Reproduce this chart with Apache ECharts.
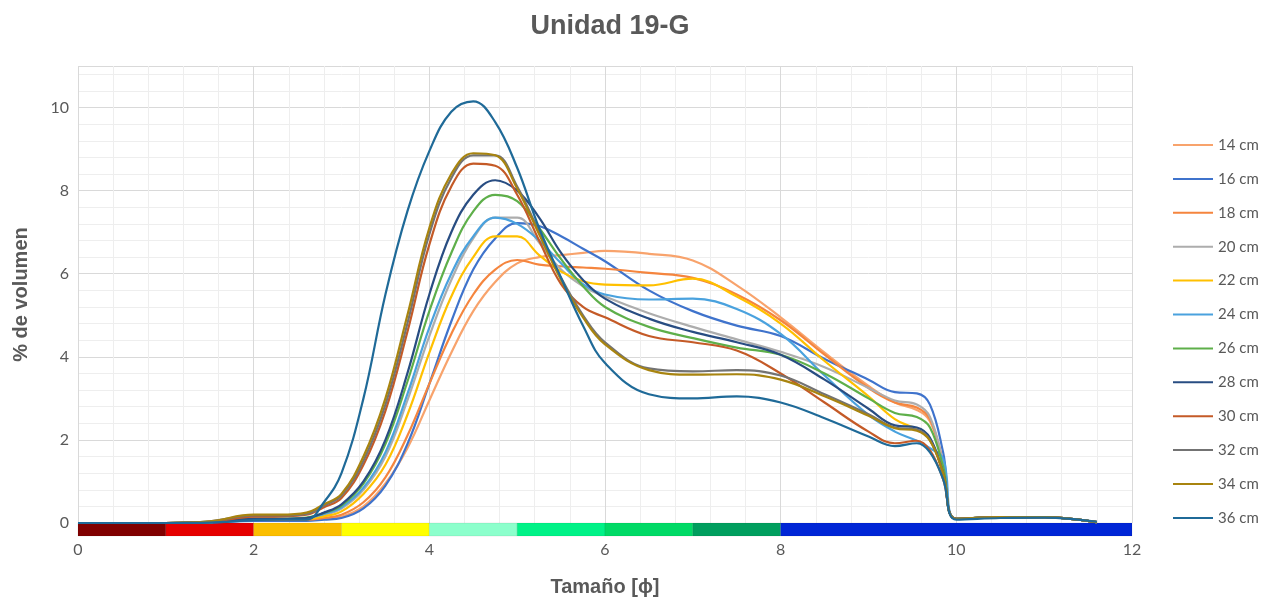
<!DOCTYPE html>
<html>
<head>
<meta charset="utf-8">
<script src="https://cdn.jsdelivr.net/npm/echarts@6/dist/echarts.min.js"></script>
<style>
  html, body { margin: 0; padding: 0; background: #ffffff; }
  #chart { width: 1277px; height: 599px; }
</style>
</head>
<body>
<div id="chart"></div>
<script>
// Grain size (phi) at which each sample curve is measured
const phi = [0, 1, 1.5, 2, 2.3, 2.6, 2.8, 3, 3.25, 3.5, 3.75, 4, 4.25, 4.5, 4.75, 5, 5.25, 5.5, 5.75, 6, 6.5, 7, 7.5, 8, 8.5, 9, 9.3, 9.55, 9.7, 9.85, 10, 10.5, 11, 11.3, 11.6];

// Sample depths (legend labels)
const depths = ['14 cm', '16 cm', '18 cm', '20 cm', '22 cm', '24 cm', '26 cm', '28 cm', '30 cm', '32 cm', '34 cm', '36 cm'];

// % volume per depth, one value per phi step
const s14 = [0, 0, 0.02, 0.08, 0.08, 0.07, 0.10, 0.15, 0.40, 0.95, 1.80, 2.95, 4.10, 5.10, 5.80, 6.25, 6.40, 6.45, 6.50, 6.55, 6.48, 6.32, 5.72, 4.95, 4.10, 3.30, 2.90, 2.72, 2.45, 1.45, 0.10, 0.14, 0.14, 0.10, 0.02];
const s16 = [0, 0, 0.01, 0.05, 0.05, 0.05, 0.08, 0.12, 0.35, 0.90, 1.90, 3.35, 4.85, 6.10, 6.85, 7.22, 7.15, 6.90, 6.60, 6.30, 5.60, 5.10, 4.75, 4.50, 3.95, 3.45, 3.15, 3.12, 2.85, 1.70, 0.10, 0.14, 0.14, 0.10, 0.02];
const s18 = [0, 0, 0.02, 0.08, 0.08, 0.08, 0.12, 0.20, 0.50, 1.10, 2.10, 3.35, 4.55, 5.50, 6.10, 6.33, 6.22, 6.18, 6.15, 6.12, 6.02, 5.90, 5.50, 4.88, 4.05, 3.25, 2.90, 2.78, 2.50, 1.45, 0.10, 0.14, 0.14, 0.10, 0.02];
const s20 = [0, 0, 0.02, 0.10, 0.10, 0.12, 0.20, 0.35, 0.80, 1.60, 2.95, 4.50, 5.85, 6.85, 7.35, 7.35, 6.75, 6.10, 5.70, 5.45, 5.05, 4.72, 4.42, 4.12, 3.75, 3.25, 2.95, 2.85, 2.55, 1.45, 0.10, 0.14, 0.14, 0.10, 0.02];
const s22 = [0, 0, 0.02, 0.10, 0.10, 0.10, 0.16, 0.28, 0.70, 1.40, 2.60, 4.10, 5.45, 6.40, 6.90, 6.90, 6.45, 6.05, 5.82, 5.74, 5.72, 5.88, 5.45, 4.80, 3.90, 3.05, 2.50, 2.25, 2.00, 1.20, 0.10, 0.14, 0.14, 0.10, 0.02];
const s24 = [0, 0, 0.02, 0.10, 0.10, 0.12, 0.22, 0.38, 0.85, 1.70, 3.10, 4.70, 6.00, 6.90, 7.35, 7.20, 6.80, 6.25, 5.75, 5.50, 5.38, 5.40, 5.15, 4.55, 3.55, 2.60, 2.20, 1.98, 1.80, 1.55, 0.10, 0.14, 0.14, 0.10, 0.02];
const s26 = [0, 0, 0.02, 0.10, 0.10, 0.13, 0.24, 0.42, 0.95, 1.90, 3.40, 5.10, 6.50, 7.50, 7.90, 7.75, 7.10, 6.35, 5.70, 5.20, 4.72, 4.45, 4.22, 4.05, 3.60, 3.00, 2.65, 2.55, 2.30, 1.35, 0.10, 0.14, 0.14, 0.10, 0.02];
const s28 = [0, 0, 0.02, 0.10, 0.10, 0.12, 0.25, 0.45, 1.00, 2.00, 3.60, 5.50, 7.00, 7.90, 8.25, 8.00, 7.35, 6.50, 5.85, 5.40, 4.92, 4.60, 4.35, 4.05, 3.45, 2.75, 2.35, 2.30, 2.05, 1.20, 0.10, 0.14, 0.14, 0.10, 0.02];
const s30 = [0, 0, 0.03, 0.15, 0.16, 0.20, 0.38, 0.60, 1.40, 2.70, 4.60, 6.70, 8.10, 8.65, 8.60, 7.90, 6.80, 5.75, 5.20, 4.95, 4.50, 4.35, 4.15, 3.60, 2.90, 2.20, 1.92, 1.98, 1.75, 1.05, 0.10, 0.14, 0.14, 0.10, 0.02];
const s32 = [0, 0, 0.04, 0.18, 0.18, 0.22, 0.42, 0.66, 1.50, 2.85, 4.80, 6.95, 8.30, 8.85, 8.85, 8.10, 7.00, 5.90, 5.00, 4.35, 3.72, 3.65, 3.68, 3.55, 3.10, 2.62, 2.30, 2.25, 2.00, 1.20, 0.10, 0.14, 0.14, 0.10, 0.02];
const s34 = [0, 0, 0.04, 0.20, 0.20, 0.25, 0.45, 0.70, 1.60, 3.00, 5.00, 7.10, 8.40, 8.90, 8.85, 8.05, 6.95, 5.85, 4.95, 4.30, 3.68, 3.57, 3.58, 3.45, 3.05, 2.58, 2.28, 2.22, 1.98, 1.20, 0.10, 0.14, 0.14, 0.10, 0.02];
const s36 = [0, 0, 0.01, 0.07, 0.08, 0.08, 0.50, 1.20, 3.00, 5.50, 7.50, 8.95, 9.90, 10.15, 9.65, 8.55, 7.10, 5.90, 4.75, 3.85, 3.10, 3.00, 3.05, 2.90, 2.52, 2.08, 1.85, 1.92, 1.70, 1.05, 0.08, 0.12, 0.13, 0.10, 0.03];

const seriesValues = [s14, s16, s18, s20, s22, s24, s26, s28, s30, s32, s34, s36];

const lineColors = ['#F8A36C', '#3F73CC', '#F5853E', '#ADADAD', '#FFC000', '#4AA2DE',
                    '#5EAF4A', '#284D82', '#C45A27', '#737373', '#A8840F', '#1F6A98'];

// Grain-size class band along the phi axis
const bandEdges = [0, 1, 2, 3, 4, 5, 6, 7, 8, 12];
const bandColors = ['#800000', '#E60000', '#FBBE00', '#FFFF00', '#8CFFCC', '#00F287', '#00DA66', '#009E5E', '#0026D6'];

// Axis ticks
const xTicks = { min: 0, max: 12, step: 2 };
const yTicks = { min: 0, max: 11, step: 2 };

const bandData = bandColors.map((c, i) => [bandEdges[i], bandEdges[i + 1], i]);

const labelFont = 'Lato, "Open Sans", sans-serif';
const boldFont = '"Liberation Sans", Arial, sans-serif';
const grey = '#595959';

const chart = echarts.init(document.getElementById('chart'));

const lineSeries = depths.map((name, k) => ({
  name: name,
  type: 'line',
  xAxisIndex: 0,
  yAxisIndex: 0,
  smooth: 0.4,
  showSymbol: false,
  symbol: 'none',
  color: lineColors[k],
  lineStyle: { width: 2.2, color: lineColors[k] },
  emphasis: { disabled: true },
  data: phi.map((x, i) => [x, seriesValues[k][i]])
}));

chart.setOption({
  animation: false,
  backgroundColor: '#ffffff',
  title: {
    text: 'Unidad 19-G',
    left: 605,
    top: 8,
    textAlign: 'center',
    textStyle: { fontFamily: boldFont, fontWeight: 'bold', fontSize: 27, color: grey }
  },
  legend: {
    orient: 'vertical',
    left: 1173,
    top: 137,
    padding: 0,
    icon: 'rect',
    itemWidth: 40,
    itemHeight: 2,
    itemGap: 17.9,
    textStyle: { fontFamily: labelFont, fontSize: 15, color: grey, lineHeight: 16 },
    data: depths
  },
  grid: [
    { left: 78, right: 145, top: 66, bottom: 76, containLabel: false, outerBoundsMode: 'none' },
    { left: 78, right: 145, top: 523, height: 13, containLabel: false, outerBoundsMode: 'none' }
  ],
  xAxis: [
    {
      gridIndex: 0, type: 'value', min: xTicks.min, max: xTicks.max, interval: xTicks.step,
      axisLine: { show: false }, axisTick: { show: false }, axisLabel: { show: false },
      splitLine: { show: true, lineStyle: { color: '#D9D9D9', width: 1 } },
      minorTick: { show: false, splitNumber: 5 },
      minorSplitLine: { show: true, lineStyle: { color: '#EEEEEE', width: 1 } }
    },
    {
      gridIndex: 1, type: 'value', min: xTicks.min, max: xTicks.max, interval: xTicks.step,
      axisLine: { show: false }, axisTick: { show: false },
      splitLine: { show: false },
      axisLabel: { margin: 6, fontFamily: labelFont, fontSize: 16, color: grey },
      name: 'Tamaño [ϕ]',
      nameLocation: 'middle',
      nameGap: 41,
      nameTextStyle: { fontFamily: boldFont, fontWeight: 'bold', fontSize: 20, color: grey }
    }
  ],
  yAxis: [
    {
      gridIndex: 0, type: 'value', min: yTicks.min, max: yTicks.max, interval: yTicks.step,
      axisLine: { show: false },
      axisTick: { show: false },
      axisLabel: { margin: 9, fontFamily: labelFont, fontSize: 16, color: grey, showMaxLabel: false },
      splitLine: { show: true, lineStyle: { color: '#D9D9D9', width: 1 } },
      minorTick: { show: false, splitNumber: 5 },
      minorSplitLine: { show: true, lineStyle: { color: '#EEEEEE', width: 1 } },
      name: '% de volumen',
      nameLocation: 'middle',
      nameRotate: 90,
      nameGap: 47,
      nameTextStyle: { fontFamily: boldFont, fontWeight: 'bold', fontSize: 20, color: grey }
    },
    {
      gridIndex: 1, type: 'value', min: 0, max: 1,
      show: false
    }
  ],
  series: [
    {
      type: 'custom',
      xAxisIndex: 1,
      yAxisIndex: 1,
      silent: true,
      data: bandData,
      encode: { x: [0, 1] },
      renderItem: function (params, api) {
        const box = params.coordSys;
        const a = api.coord([api.value(0), 0]);
        const b = api.coord([api.value(1), 0]);
        return {
          type: 'rect',
          shape: { x: a[0], y: box.y, width: b[0] - a[0], height: box.height },
          style: { fill: bandColors[api.value(2)], stroke: 'rgba(0,0,0,0.12)', lineWidth: 0.6 }
        };
      }
    }
  ].concat(lineSeries)
});
</script>
</body>
</html>
